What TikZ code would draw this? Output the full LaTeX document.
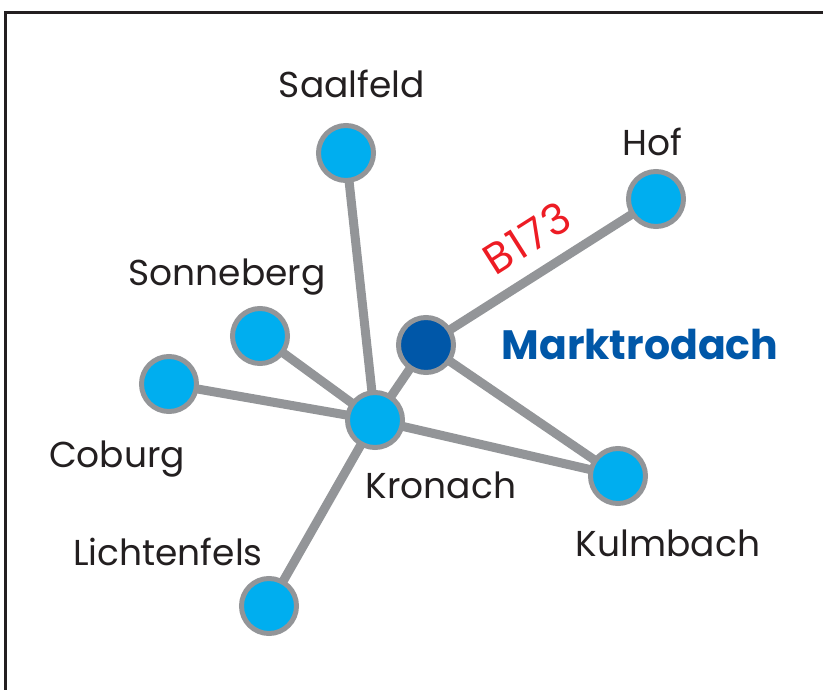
\documentclass[tikz,border=0pt]{standalone}
\usepackage{fontspec}
\setmainfont{Poppins}
\usetikzlibrary{backgrounds}
\definecolor{towncyan}{HTML}{00AEEF}
\definecolor{townblue}{HTML}{0057A8}
\definecolor{roadgray}{HTML}{939598}
\definecolor{roadred}{HTML}{ED1C24}
\definecolor{inkblack}{HTML}{231F20}
\tikzset{
    town/.style={circle,draw=roadgray,line width=5pt,fill=towncyan,minimum size=55pt,inner sep=0pt},
    hometown/.append style={town,fill=townblue},
    road/.style={draw=roadgray,line width=9pt},
    label/.append style={anchor=base,inner sep=0pt,text=inkblack,font=\fontsize{36}{36}\selectfont},
}
\begin{document}
\begin{tikzpicture}[x=1pt,y=-1pt]
\useasboundingbox (0,0) rectangle (823,690);
\draw[line width=3pt,inkblack] (5,690) -- (5,13) -- (823,13);

           \node[town] (saalfeld) at (346, 153) {};
           \node[town] (hof) at (656, 199) {};
           \node[hometown] (marktrodach) at (426, 345) {};
           \node[town] (sonneberg) at (260, 336) {};
           \node[town] (coburg) at (169, 384) {};
           \node[town] (kronach) at (375, 420) {};
           \node[town] (kulmbach) at (618, 476) {};
           \node[town] (lichtenfels) at (269, 606) {};

\begin{scope}[on background layer]
           \path (saalfeld.center) edge[road] (kronach.center)
                 (sonneberg.center) edge[road] (kronach.center)
                 (coburg.center) edge[road] (kronach.center)
                 (lichtenfels.center) edge[road] (kronach.center)
                 (kronach.center) edge[road] (marktrodach.center)
                 (kronach.center) edge[road] (kulmbach.center)
                 (marktrodach.center) edge[road] (kulmbach.center)
                 (marktrodach.center) edge[road] (hof.center);
\end{scope}

           \node[label] (saalfeldlabel) at (352, 98) {Saalfeld};
           \node[label] (hoflabel) at (652, 156) {Hof};
           \node[label] (sonneberglabel) at (227, 285) {Sonneberg};
           \node[label] (coburglabel) at (117, 467) {Coburg};
           \node[label] (kronachlabel) at (441, 498) {Kronach};
           \node[label] (kulmbachlabel) at (668, 556) {Kulmbach};
           \node[label] (lichtenfelslabel) at (168, 565) {Lichtenfels};
           \node[label,text=townblue,font=\fontsize{41}{41}\selectfont\bfseries] (marktrodachlabel) at (640, 359) {Marktrodach};
           \node[label,anchor=center,text=roadred,rotate=32.4,font=\fontsize{43}{43}\selectfont\addfontfeature{LetterSpace=4}] (roadlabel) at (527, 238) {B173};

\end{tikzpicture}
\end{document}
